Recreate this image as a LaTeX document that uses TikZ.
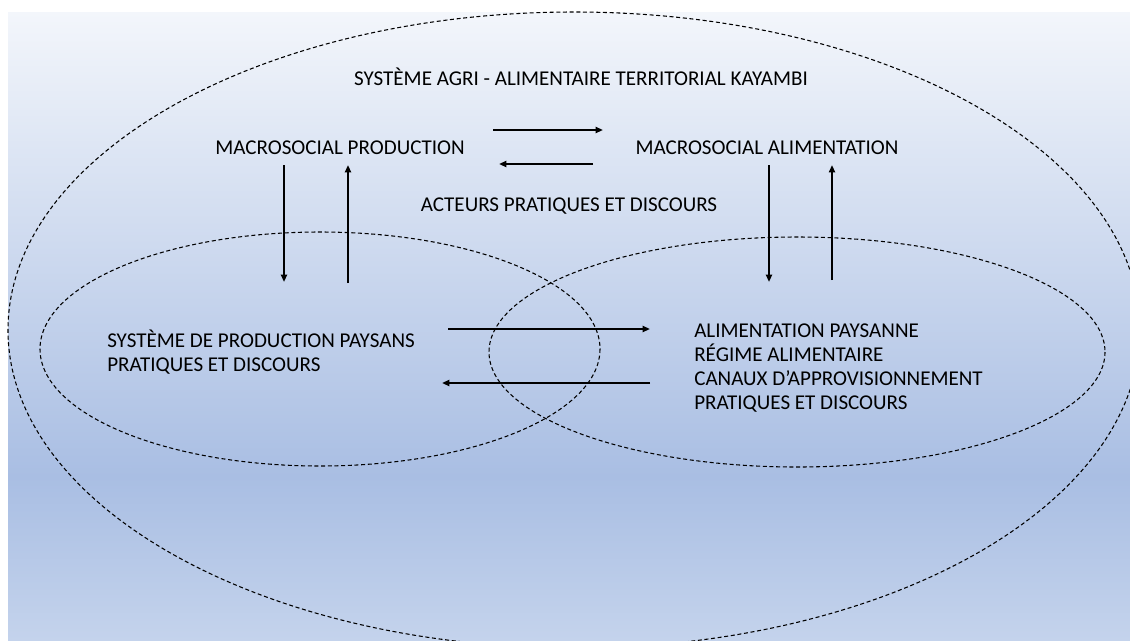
\documentclass[tikz,border=0pt]{standalone}
\usepackage{fontspec}
\setmainfont{Carlito}
\usetikzlibrary{arrows.meta}

\definecolor{bgtop}{RGB}{243,246,251}
\definecolor{bgmid}{RGB}{169,190,227}
\definecolor{bgbottom}{RGB}{196,211,236}
\pgfdeclareverticalshading{bgfade}{100bp}{color(0bp)=(bgbottom); color(25bp)=(bgbottom); color(38bp)=(bgmid); color(75bp)=(bgtop); color(100bp)=(bgtop)}

\begin{document}
\begin{tikzpicture}[x=0.75pt,y=-0.75pt]
\tikzstyle{txt}=[inner sep=0pt,font=\fontsize{15.8}{18}\selectfont]
\tikzstyle{zone}=[draw,dash pattern=on 3pt off 2pt,line width=0.8pt]
\tikzstyle{flow}=[line width=1.5pt,-{Triangle[length=5.5pt,width=4.5pt]}]
\useasboundingbox (0,0) rectangle (1130,640);
\shade[shading=bgfade] (8,12) rectangle (1130,640);

% territoire, production, alimentation
\draw[zone] (574,330) ellipse [x radius=566,y radius=318];
\draw[zone] (320,349) ellipse [x radius=280,y radius=117];
\draw[zone] (797,352) ellipse [x radius=308,y radius=115];

\node[txt,anchor=base] (sat) at (581,85) {SYSTÈME AGRI - ALIMENTAIRE TERRITORIAL KAYAMBI};
\node[txt,anchor=base] (mprod) at (340,154) {MACROSOCIAL PRODUCTION};
\node[txt,anchor=base] (malim) at (767,154) {MACROSOCIAL ALIMENTATION};
\node[txt,anchor=base] (act) at (569,211) {ACTEURS PRATIQUES ET DISCOURS};
\node[txt,anchor=west,align=left] (spp) at (107,352) {SYSTÈME DE PRODUCTION PAYSANS\\PRATIQUES ET DISCOURS};
\node[txt,anchor=west,align=left] (alp) at (694,368) {ALIMENTATION PAYSANNE\\RÉGIME ALIMENTAIRE\\CANAUX D’APPROVISIONNEMENT\\PRATIQUES ET DISCOURS};

  \foreach \name/\x/\y in {T-1/493/130, T-2/603/130, T-3/593/164, T-4/499/164,
      L-1/284/165, L-2/284/282, L-3/348/283, L-4/348/165,
      R-1/769/165, R-2/769/282, R-3/832/280, R-4/832/165,
      M-1/448/329, M-2/650/329, M-3/650/383, M-4/442/383}
    \coordinate (\name) at (\x,\y);
  \foreach \from/\to in {T-1/T-2,T-3/T-4,L-1/L-2,L-3/L-4,R-1/R-2,R-3/R-4,M-1/M-2,M-3/M-4}
    { \draw[flow] (\from) -- (\to); }

\end{tikzpicture}
\end{document}
